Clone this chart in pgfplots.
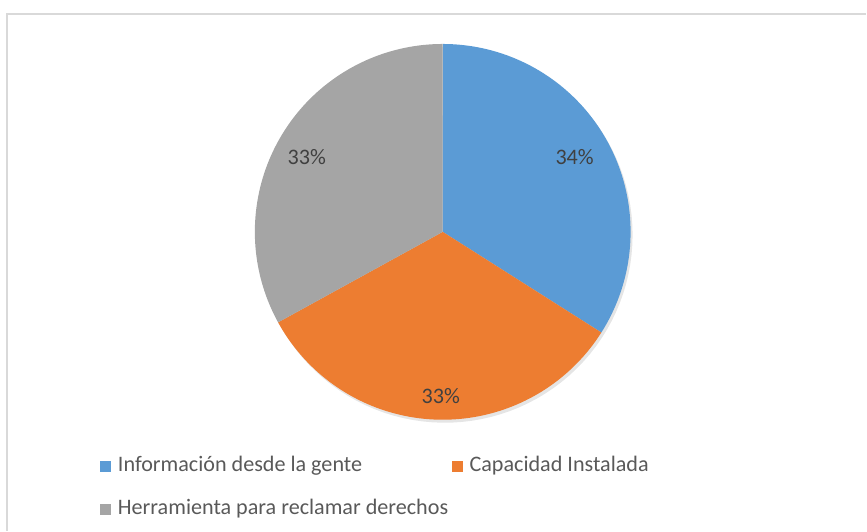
\documentclass[border=0pt]{standalone}
\usepackage{pgfplots}
\usepackage{pgfplotstable}
\pgfplotsset{compat=1.18}
\usepackage{fontspec}
\setmainfont{Carlito}
\definecolor{pieblue}{HTML}{5B9BD5}
\definecolor{pieorange}{HTML}{ED7D31}
\definecolor{piegray}{HTML}{A5A5A5}
\definecolor{txt}{HTML}{595959}
\definecolor{lbl}{HTML}{404040}
\definecolor{frame}{HTML}{D9D9D9}
\pgfplotstableread{
label value
Informacion 34
Capacidad 33
Herramienta 33
}\piedata
\pgfplotstablegetelem{0}{value}\of\piedata \let\va\pgfplotsretval
\pgfplotstablegetelem{1}{value}\of\piedata \let\vb\pgfplotsretval
\pgfplotstablegetelem{2}{value}\of\piedata \let\vc\pgfplotsretval
\pgfmathsetmacro{\azero}{90}
\pgfmathsetmacro{\aone}{\azero-3.6*\va}
\pgfmathsetmacro{\atwo}{\aone-3.6*\vb}
\pgfmathsetmacro{\athree}{\atwo-3.6*\vc}
\def\cx{443}\def\cy{299}\def\R{188}
\begin{document}%
\begin{tikzpicture}
\begin{axis}[
  width=8.67in, height=5.31in, scale only axis,
  xmin=0, xmax=867, ymin=0, ymax=531,
  axis lines=none, clip=false,
  legend columns=2,
  legend style={at={(axis cs:100,74)}, anchor=north west, draw=none, fill=none,
    inner sep=0pt, outer sep=0pt,
    font=\fontsize{16}{19}\selectfont\color{txt},
    nodes={text height=0.15in, text depth=0.045in, inner ysep=0pt, inner xsep=2.5pt},
    row sep=0.235in, column sep=0pt},
  legend cell align=left,
]
% bounding box
\addplot[draw=none, forget plot] coordinates {(0,0) (867,531)};
% frame
\addplot[draw=frame, line width=0.8pt, forget plot] coordinates {(7,0) (7,517) (867,517)};
% shadow
\addplot[draw=none, fill=black, fill opacity=0.10, domain=0:360, samples=120, forget plot]
  ({\cx+2+\R*cos(x)}, {\cy-3+\R*sin(x)}) -- cycle;
% wedges
\addplot[draw=none, fill=pieblue, domain=\aone:\azero, samples=80, forget plot]
  ({\cx+\R*cos(x)}, {\cy+\R*sin(x)}) -- (axis cs:\cx,\cy) -- cycle;
\addplot[draw=none, fill=pieorange, domain=\atwo:\aone, samples=80, forget plot]
  ({\cx+\R*cos(x)}, {\cy+\R*sin(x)}) -- (axis cs:\cx,\cy) -- cycle;
\addplot[draw=none, fill=piegray, domain=\athree:\atwo, samples=80, forget plot]
  ({\cx+\R*cos(x)}, {\cy+\R*sin(x)}) -- (axis cs:\cx,\cy) -- cycle;
% data labels
\node[font=\fontsize{16}{19}\selectfont, text=lbl] at (axis cs:575,374) {\va\%};
\node[font=\fontsize{16}{19}\selectfont, text=lbl] at (axis cs:441,135) {\vb\%};
\node[font=\fontsize{16}{19}\selectfont, text=lbl] at (axis cs:307,374) {\vc\%};
% legend
\addlegendimage{legend image code/.code={\fill[pieblue] (0in,-0.05in) rectangle (0.1in,0.05in); \path (0.14in,0);}}
\addlegendentry{Información desde la gente}
\addlegendimage{legend image code/.code={\fill[pieorange] (0in,-0.05in) rectangle (0.1in,0.05in); \path (0.14in,0);}}
\addlegendentry{Capacidad Instalada}
\addlegendimage{legend image code/.code={\fill[piegray] (0in,-0.05in) rectangle (0.1in,0.05in); \path (0.14in,0);}}
\addlegendentry{Herramienta para reclamar derechos}
\end{axis}
\end{tikzpicture}%
\end{document}
